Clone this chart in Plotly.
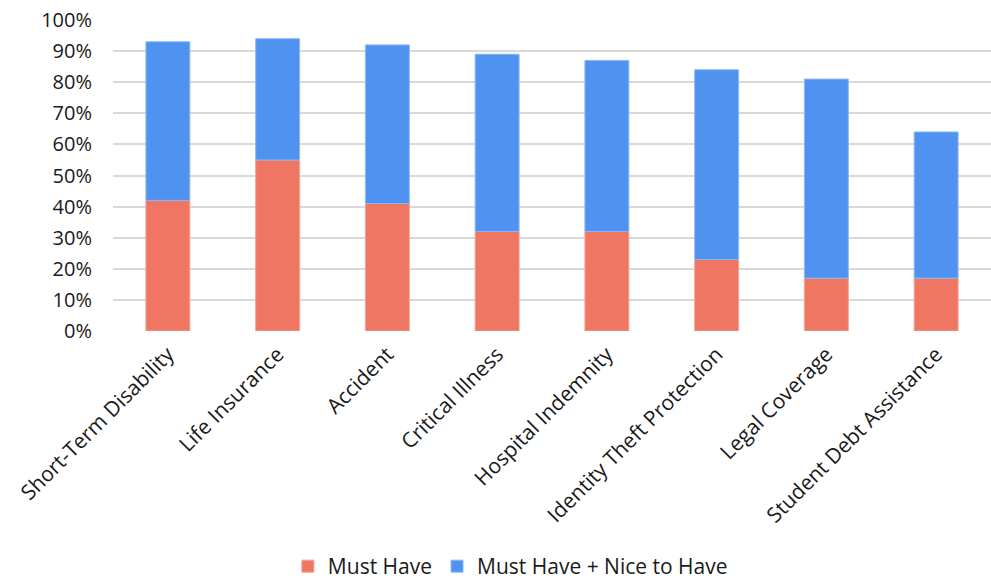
import plotly.graph_objects as go

categories = ["Short-Term Disability", "Life Insurance", "Accident", "Critical Illness",
              "Hospital Indemnity", "Identity Theft Protection", "Legal Coverage",
              "Student Debt Assistance"]
must_have = [42, 55, 41, 32, 32, 23, 17, 17]
must_or_nice = [93, 94, 92, 89, 87, 84, 81, 64]
series_names = ["Must Have", "Must Have + Nice to Have"]

extra = [t - m for t, m in zip(must_or_nice, must_have)]

font_family = "'Open Sans', 'Noto Sans', sans-serif"

fig = go.Figure()
fig.add_trace(go.Bar(x=categories, y=must_have, name=series_names[0],
                     marker=dict(color="#EE7662", line=dict(color="#F4A090", width=1))))
fig.add_trace(go.Bar(x=categories, y=extra, base=must_have, name=series_names[1],
                     customdata=must_or_nice,
                     marker=dict(color="#5092F0", line=dict(color="#8CB7F5", width=1))))

fig.update_layout(
    barmode="overlay",
    bargap=0.6,
    width=991, height=587,
    margin=dict(l=113, r=0, t=20, b=256, autoexpand=False),
    plot_bgcolor="white", paper_bgcolor="white",
    font=dict(family=font_family, size=21, color="#1a1a1a"),
    legend=dict(orientation="h", x=0.515, xref="container", xanchor="center",
                y=0.0, yref="container", yanchor="bottom",
                font=dict(size=21), itemwidth=30, traceorder="normal"),
    showlegend=True,
)
fig.update_yaxes(range=[0, 100], dtick=10, ticksuffix="%", showgrid=True,
                 gridcolor="#d9d9d9", gridwidth=1.5, zeroline=False,
                 showline=False, ticks="", tickfont=dict(size=20),
                 ticklabelstandoff=20)
fig.update_xaxes(tickangle=-45, showline=False, ticks="", tickfont=dict(size=21),
                 ticklabelstandoff=6)

fig.write_html("out.html")
